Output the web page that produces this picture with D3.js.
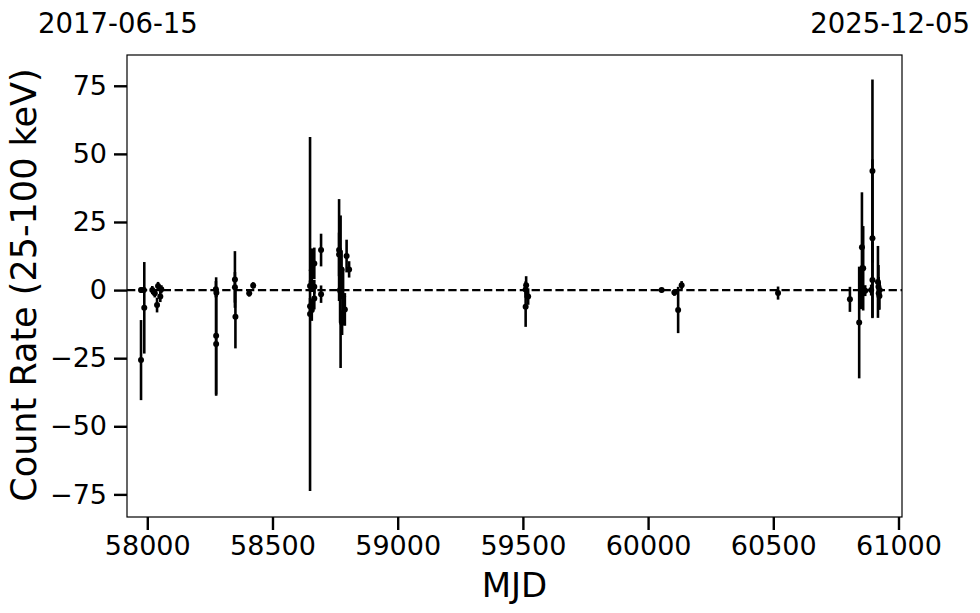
<!DOCTYPE html>
<html>
<head>
<meta charset="utf-8">
<script src="https://cdn.jsdelivr.net/npm/d3@7"></script>
<style>
    body { margin: 0; background: #fff; }
    text { font-family: "DejaVu Sans", sans-serif; fill: #000; }
</style>
</head>
<body>
<script>
(function(){

    //light curve points (MJD, count rate, 1-sigma error)
    var mjd = [57975, 57975, 57986, 57988, 58020, 58030, 58039, 58043, 58052, 58056,
               58274, 58276, 58275, 58275, 58350, 58350, 58352, 58407, 58423,
               58650, 58650, 58650, 58657, 58657, 58667, 58667, 58667, 58694, 58694,
               58766, 58766, 58770, 58772, 58776, 58778, 58782, 58789, 58796, 58806,
               59511, 59513, 59521, 59511,
               60054, 60105, 60120, 60134,
               60519,
               60806, 60843, 60851, 60854, 60859, 60867, 60891, 60896, 60896, 60896,
               60918, 60920, 60921, 60924, 60925];
    var rate = [-25.7, 0, 0, -6.5, 0, -1.2, -5.5, 1.5, -2.4, 0.3,
                0.3, -1, -16.8, -19.8, 3.9, 1, -9.8, -1.2, 1.7,
                -8.8, -5.9, 1.5, 7.3, -7.3, 9.8, 1.2, -3.1, 14.7, -1.5,
                14.7, 13.1, 0, -0.6, 7.6, -12, -2.4, -7.1, 12.5, 7.6,
                0.2, 1.8, -2.4, -6.1,
                0, -0.9, -7.3, 1.8,
                -1.1,
                -3.4, -11.9, 1, 15.7, 8, -0.2, 0, 43.7, 19, 3.7,
                3, 1.2, -1.2, -2.2, 0];
    var rateErr = [14.7, 1, 1, 16.8, 1.5, 1.5, 2.7, 1.5, 2, 1.5,
                   3, 1.5, 21.5, 19, 10.4, 5.6, 11.6, 1.2, 1.2,
                   65, 3, 2, 8, 4, 5.8, 2.5, 4, 6, 3.2,
                   18.7, 8, 12, 28, 7, 4.5, 10, 6, 6, 3,
                   3, 3.3, 3, 7.4,
                   0.8, 1.2, 8.5, 1.5,
                   2.4,
                   4.6, 20.5, 8, 20.2, 15.5, 2, 2, 33.6, 29, 14,
                   13.2, 8, 6, 5, 3];

    //axis limits and ticks
    var xLimits = [57919, 61014];
    var yLimits = [-83.3, 86.3];
    var xTicks = [58000, 58500, 59000, 59500, 60000, 60500, 61000];
    var yTicks = [-75, -50, -25, 0, 25, 50, 75];
    var dateLabels = ["2017-06-15", "2025-12-05"];

window.onload = drawChart();

function drawChart(){

    var width = 980,
        height = 613;

    //plot frame
    var margin = {left: 127, top: 55, right: 78, bottom: 96};
    var innerW = width - margin.left - margin.right,
        innerH = height - margin.top - margin.bottom;

    var svg = d3.select("body")
        .append("svg")
        .attr("width", width)
        .attr("height", height);

    var x = d3.scaleLinear().domain(xLimits).range([0, innerW]);
    var y = d3.scaleLinear().domain(yLimits).range([innerH, 0]);

    var g = svg.append("g")
        .attr("transform", "translate(" + margin.left + "," + margin.top + ")");

    //x axis
    var xAxis = g.append("g")
        .attr("transform", "translate(0," + innerH + ")")
        .call(d3.axisBottom(x).tickValues(xTicks).tickFormat(d3.format("d")).tickSize(13).tickPadding(6));
    styleAxis(xAxis);

    //y axis
    var yAxis = g.append("g")
        .call(d3.axisLeft(y).tickValues(yTicks).tickSize(13).tickPadding(7));
    styleAxis(yAxis);

    //zero line
    g.append("line")
        .attr("x1", 0)
        .attr("x2", innerW)
        .attr("y1", y(0))
        .attr("y2", y(0))
        .attr("stroke", "#000")
        .attr("stroke-width", 2.2)
        .attr("stroke-dasharray", "8.3,3.6");

    var idx = d3.range(mjd.length);

    //error bars
    g.selectAll(".ebar")
        .data(idx)
        .enter()
        .append("line")
        .attr("class", "ebar")
        .attr("x1", function(i){ return x(mjd[i]); })
        .attr("x2", function(i){ return x(mjd[i]); })
        .attr("y1", function(i){ return y(rate[i] - rateErr[i]); })
        .attr("y2", function(i){ return y(rate[i] + rateErr[i]); })
        .attr("stroke", "#000")
        .attr("stroke-width", 2.6);

    //points
    g.selectAll(".pt")
        .data(idx)
        .enter()
        .append("circle")
        .attr("class", "pt")
        .attr("cx", function(i){ return x(mjd[i]); })
        .attr("cy", function(i){ return y(rate[i]); })
        .attr("r", 3)
        .attr("fill", "#000");

    //frame
    g.append("rect")
        .attr("width", innerW)
        .attr("height", innerH)
        .attr("fill", "none")
        .attr("stroke", "#000")
        .attr("stroke-width", 1.2);

    //axis titles
    svg.append("text")
        .attr("x", margin.left + innerW / 2)
        .attr("y", 597)
        .attr("text-anchor", "middle")
        .style("font-size", "34px")
        .text("MJD");

    svg.append("text")
        .attr("transform", "translate(36," + (margin.top + innerH / 2 - 1) + ") rotate(-90)")
        .attr("text-anchor", "middle")
        .style("font-size", "35px")
        .text("Count Rate (25-100 keV)");

    //calendar dates at the ends of the time range
    svg.append("text")
        .attr("x", 38)
        .attr("y", 33)
        .style("font-size", "27.5px")
        .text(dateLabels[0]);

    svg.append("text")
        .attr("x", 970)
        .attr("y", 33)
        .attr("text-anchor", "end")
        .style("font-size", "27.5px")
        .text(dateLabels[1]);
};

function styleAxis(axis){
    axis.select(".domain").remove();
    axis.selectAll(".tick line")
        .attr("stroke", "#000")
        .attr("stroke-width", 2.4);
    axis.selectAll(".tick text")
        .style("font-size", "27px")
        .style("font-family", "DejaVu Sans, sans-serif");
};

})();
</script>
</body>
</html>
